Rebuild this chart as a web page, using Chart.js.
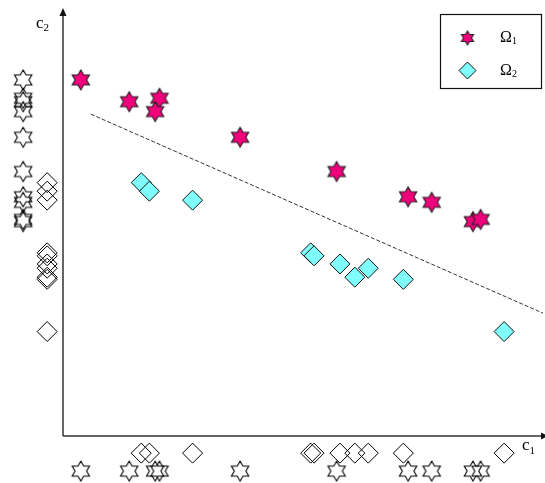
<!DOCTYPE html>
<html>
<head>
<meta charset="utf-8">
<script src="https://cdn.jsdelivr.net/npm/chart.js@4.4.0/dist/chart.umd.min.js"></script>
<style>
  html, body { margin: 0; padding: 0; background: #ffffff; }
  #wrap { width: 545px; height: 483px; }
</style>
</head>
<body>
<div id="wrap"><canvas id="chart" width="545" height="483"></canvas></div>
<script>
// Feature space: two classes in the (c1, c2) plane with a linear boundary.
const axisNames = ['c', 'c'];
const axisIndices = ['1', '2'];
const classNames = ['Ω', 'Ω'];
const classIndices = ['1', '2'];

// Class Ω1 (stars)
const starC1 = [0.37, 1.38, 2.01, 1.92, 3.69, 5.70, 7.19, 7.68, 8.54, 8.70];
const starC2 = [8.32, 7.81, 7.89, 7.58, 6.98, 6.18, 5.59, 5.46, 5.01, 5.06];

// Class Ω2 (diamonds)
const diamondC1 = [1.63, 1.80, 2.70, 5.16, 5.23, 5.77, 6.08, 6.36, 7.09, 9.19];
const diamondC2 = [5.92, 5.72, 5.51, 4.28, 4.21, 4.02, 3.71, 3.92, 3.66, 2.44];

// Decision boundary endpoints
const boundaryC1 = [0.58, 10];
const boundaryC2 = [7.52, 2.87];

// Visible range of the plane (the margins hold the axis projections)
const C1_RANGE = [-1.3125, 10.0417];
const C2_RANGE = [-1.098, 10.187];
const C2_TOP = 10;

// Where the axis projections are drawn
const STAR_ON_C2 = -0.83, DIAMOND_ON_C2 = -0.33;
const DIAMOND_ON_C1 = -0.40, STAR_ON_C1 = -0.82;

const PINK = '#F0007A';
const CYAN = '#80FFFF';

function hexagram(R, fill, stroke) {
  const s = Math.ceil(2 * R + 4);
  const cv = document.createElement('canvas');
  cv.width = s; cv.height = s;
  const g = cv.getContext('2d');
  const cx = s / 2, cy = s / 2, r = R / Math.sqrt(3);
  g.beginPath();
  for (let i = 0; i < 12; i++) {
    const a = -Math.PI / 2 + i * Math.PI / 6;
    const rr = i % 2 === 0 ? R : r;
    const px = cx + rr * Math.cos(a), py = cy + rr * Math.sin(a);
    if (i === 0) g.moveTo(px, py); else g.lineTo(px, py);
  }
  g.closePath();
  if (fill) { g.fillStyle = fill; g.fill(); }
  g.lineWidth = 1.1;
  g.strokeStyle = stroke;
  g.stroke();
  return cv;
}

const starFilled = hexagram(10, PINK, '#222');
const starHollow = hexagram(10, null, '#000');
const starLegend = hexagram(7, PINK, '#222');

const pts = (xs, ys) => xs.map((x, i) => ({ x, y: ys[i] }));

const datasets = [
  { label: 'Ω1', data: pts(starC1, starC2), pointStyle: starFilled },
  { label: 'Ω2', data: pts(diamondC1, diamondC2), pointStyle: 'rectRot', pointRadius: 10,
    backgroundColor: CYAN, borderColor: '#111', borderWidth: 1 },
  { label: 'Ω1 on c2', data: starC2.map(y => ({ x: STAR_ON_C2, y })), pointStyle: starHollow },
  { label: 'Ω2 on c2', data: diamondC2.map(y => ({ x: DIAMOND_ON_C2, y })), pointStyle: 'rectRot', pointRadius: 10,
    backgroundColor: 'rgba(0,0,0,0)', borderColor: '#000', borderWidth: 1 },
  { label: 'Ω2 on c1', data: diamondC1.map(x => ({ x, y: DIAMOND_ON_C1 })), pointStyle: 'rectRot', pointRadius: 10,
    backgroundColor: 'rgba(0,0,0,0)', borderColor: '#000', borderWidth: 1 },
  { label: 'Ω1 on c1', data: starC1.map(x => ({ x, y: STAR_ON_C1 })), pointStyle: starHollow },
  { label: 'boundary', type: 'line', data: pts(boundaryC1, boundaryC2), showLine: true, pointRadius: 0,
    borderColor: '#333', borderWidth: 1, borderDash: [4, 2], fill: false }
];

function subText(ctx, base, sub, x, y, size, subSize, drop) {
  ctx.font = size + 'px "Liberation Serif", "Times New Roman", serif';
  ctx.fillText(base, x, y);
  const w = ctx.measureText(base).width;
  ctx.font = subSize + 'px "Liberation Serif", "Times New Roman", serif';
  ctx.fillText(sub, x + w, y + drop);
}

const decor = {
  id: 'decor',
  beforeDatasetsDraw(chart) {
    const { ctx, scales: { x, y } } = chart;
    const ox = x.getPixelForValue(0), oy = y.getPixelForValue(0);
    const top = y.getPixelForValue(C2_TOP);
    ctx.save();
    ctx.strokeStyle = '#333';
    ctx.fillStyle = '#111';
    ctx.lineWidth = 1.5;
    ctx.beginPath();
    ctx.moveTo(ox, oy); ctx.lineTo(ox, top + 6);
    ctx.moveTo(ox, oy); ctx.lineTo(chart.width - 2, oy);
    ctx.stroke();
    // arrowheads
    ctx.beginPath();
    ctx.moveTo(ox, top); ctx.lineTo(ox - 3.5, top + 8); ctx.lineTo(ox + 3.5, top + 8);
    ctx.closePath(); ctx.fill();
    ctx.beginPath();
    ctx.moveTo(chart.width + 3, oy); ctx.lineTo(chart.width - 4, oy - 3.5); ctx.lineTo(chart.width - 4, oy + 3.5);
    ctx.closePath(); ctx.fill();
    // axis names
    ctx.fillStyle = '#000';
    ctx.textBaseline = 'alphabetic';
    subText(ctx, axisNames[1], axisIndices[1], 36, 28, 17, 11, 3);
    subText(ctx, axisNames[0], axisIndices[0], 522, 450, 17, 11, 4);
    ctx.restore();
  },
  afterDraw(chart) {
    const { ctx } = chart;
    ctx.save();
    ctx.fillStyle = '#fff';
    ctx.fillRect(440.5, 14.5, 101, 74);
    ctx.strokeStyle = '#111';
    ctx.lineWidth = 1.2;
    ctx.strokeRect(440.5, 14.5, 101, 74);
    ctx.drawImage(starLegend, 467.5 - starLegend.width / 2, 38 - starLegend.height / 2);
    ctx.beginPath();
    ctx.moveTo(467.5, 62); ctx.lineTo(476, 70.5); ctx.lineTo(467.5, 79); ctx.lineTo(459, 70.5); ctx.closePath();
    ctx.fillStyle = CYAN; ctx.fill();
    ctx.strokeStyle = '#111'; ctx.lineWidth = 1; ctx.stroke();
    ctx.fillStyle = '#000';
    subText(ctx, classNames[0], classIndices[0], 500, 42, 16, 10, 2);
    subText(ctx, classNames[1], classIndices[1], 500, 75, 16, 10, 2);
    ctx.restore();
  }
};

new Chart(document.getElementById('chart'), {
  type: 'scatter',
  data: { datasets },
  options: {
    responsive: false,
    animation: false,
    events: [],
    layout: { padding: 0, autoPadding: false },
    elements: { point: { radius: 10 } },
    scales: {
      x: { type: 'linear', min: C1_RANGE[0], max: C1_RANGE[1], display: false },
      y: { type: 'linear', min: C2_RANGE[0], max: C2_RANGE[1], display: false }
    },
    plugins: { legend: { display: false }, tooltip: { enabled: false } }
  },
  plugins: [decor]
});
</script>
</body>
</html>
